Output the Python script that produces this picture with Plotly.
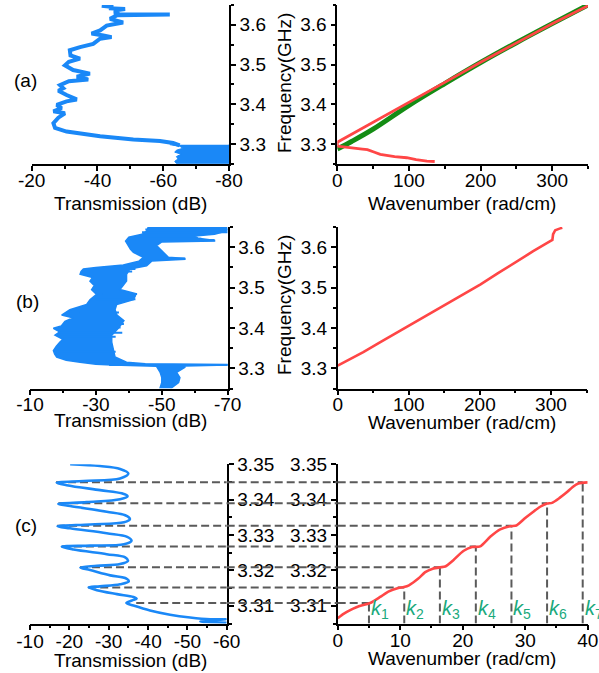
import plotly.graph_objects as go

W, H = 599, 673
FONT = "Arial, 'Liberation Sans', sans-serif"
BLUE = "#1a88f7"
RED = "#ff4646"
GREEN = "#148c14"
DASHC = "#5a5a5a"
KCOL = "#1aa97c"

# ---------------- data ----------------
# (a) transmission vs frequency
a_tr_freq = [3.648, 3.645, 3.642, 3.640, 3.636, 3.630, 3.627, 3.626, 3.624, 3.615, 3.606, 3.598,
             3.586, 3.578, 3.573, 3.569, 3.565, 3.552, 3.544, 3.536, 3.523, 3.515, 3.507, 3.498,
             3.486, 3.477, 3.469, 3.462, 3.458, 3.448, 3.440, 3.434, 3.423, 3.412, 3.407, 3.398,
             3.390, 3.382, 3.377, 3.366, 3.352, 3.340, 3.331, 3.319, 3.311, 3.307, 3.302, 3.296]
a_tr_db = [-41.3, -44.8, -43.5, -48.4, -45.1, -46.5, -45.0, -62.0, -46.0, -43.8, -47.8, -42.8,
           -40.8, -38.2, -41.8, -44.3, -40.8, -38.7, -34.7, -31.6, -31.8, -34.7, -31.3, -30.1,
           -32.6, -37.7, -33.7, -37.2, -31.3, -28.6, -29.6, -28.1, -30.6, -33.7, -30.6, -27.6,
           -29.1, -26.6, -30.1, -28.1, -26.6, -27.1, -30.6, -40.8, -50.9, -59.0, -63.0, -65.0]
a_floor_freq = [3.298, 3.294, 3.289, 3.284, 3.279, 3.274, 3.268, 3.262, 3.256, 3.2505]
a_floor_db = [-62.0, -65.0, -66.0, -64.0, -63.5, -65.5, -64.0, -64.5, -63.5, -64.0]

# (a) dispersion
a_k_up = [0, 25, 50, 75, 100, 150, 200, 250, 300, 350]
a_f_up = [3.304, 3.329, 3.353, 3.378, 3.403, 3.455, 3.5055, 3.555, 3.603, 3.648]
a_k_low = [136, 125, 110, 97, 80, 68, 60, 52, 47, 42, 35, 25, 15, 5, 0]
a_f_low = [3.2555, 3.2565, 3.260, 3.265, 3.268, 3.271, 3.2735, 3.279, 3.282, 3.2855, 3.287,
           3.289, 3.291, 3.292, 3.294]
a_k_green = [0, 20, 50, 100, 150, 200, 250, 300, 350]
a_f_green = [3.287, 3.306, 3.337, 3.397, 3.452, 3.505, 3.555, 3.603, 3.650]

# (b) transmission envelope (left / right edges of the noisy band)
b_left_freq = [3.650, 3.640, 3.632, 3.625, 3.615, 3.604, 3.595, 3.587, 3.575, 3.565, 3.556, 3.550,
               3.546, 3.540, 3.533, 3.525, 3.516, 3.505, 3.495, 3.483, 3.470, 3.458, 3.450, 3.445,
               3.432, 3.425, 3.416, 3.405, 3.399, 3.390, 3.382, 3.372, 3.365, 3.355, 3.344, 3.335,
               3.328, 3.320, 3.315, 3.310, 3.308, 3.305, 3.290, 3.277, 3.265, 3.252]
b_left_db = [-45.9, -45.4, -44.0, -40.0, -39.0, -39.8, -40.5, -41.4, -44.4, -43.0, -38.3, -30.0,
             -26.2, -25.5, -25.2, -29.0, -28.2, -29.5, -28.7, -30.2, -28.2, -27.2, -24.0, -22.1,
             -19.6, -23.0, -20.6, -19.5, -17.1, -19.0, -17.6, -20.0, -19.1, -18.0, -17.1, -17.5,
             -18.1, -21.0, -25.2, -30.0, -35.0, -48.4, -49.5, -50.0, -50.0, -49.5]
b_right_freq = [3.650, 3.640, 3.632, 3.628, 3.622, 3.617, 3.615, 3.613, 3.604, 3.590, 3.575, 3.572,
                3.570, 3.566, 3.554, 3.546, 3.533, 3.516, 3.495, 3.485, 3.480, 3.470, 3.458, 3.445,
                3.432, 3.418, 3.412, 3.399, 3.382, 3.365, 3.344, 3.328, 3.315, 3.311, 3.3095, 3.308,
                3.306, 3.3025, 3.290, 3.277, 3.265, 3.252]
b_right_db = [-69.7, -69.7, -66.0, -60.0, -61.0, -66.0, -66.0, -50.0, -48.4, -50.0, -52.0, -57.0,
              -57.0, -47.0, -45.4, -40.3, -39.3, -39.3, -37.3, -42.0, -42.0, -41.4, -36.3, -35.8,
              -36.4, -38.5, -38.0, -36.8, -34.8, -34.8, -35.3, -35.8, -39.3, -45.0, -70.0, -70.0,
              -57.0, -57.0, -54.5, -55.5, -55.1, -53.0]
# thin horizontal streaks of the noisy trace (frequency, from dB, to dB)
b_streak_freq = [3.6435, 3.637, 3.621, 3.618, 3.572, 3.546, 3.540, 3.484, 3.471, 3.438, 3.431,
                 3.410, 3.401, 3.388, 3.378, 3.341, 3.3085]
b_streak_from = [-45.0, -44.0, -40.0, -42.0, -44.0, -28.0, -26.0, -32.0, -30.0, -25.0, -22.0,
                 -22.0, -20.0, -18.5, -19.0, -18.0, -34.0]
b_streak_to = [-70.0, -70.0, -62.0, -66.0, -57.0, -42.0, -41.0, -42.5, -42.0, -37.0, -36.0,
               -38.5, -37.5, -38.0, -36.0, -36.0, -70.0]

# (b) dispersion
b_k = [0, 20, 36, 60, 97, 130, 154, 180, 201, 225, 248, 275, 299, 302, 303, 306, 312, 316]
b_f = [3.3065, 3.325, 3.340, 3.365, 3.4025, 3.438, 3.461, 3.487, 3.508, 3.535, 3.561, 3.590,
       3.615, 3.618, 3.632, 3.642, 3.646, 3.648]

# (c) transmission
c_tr_db = [-20.2, -27.8, -32.9, -35.0, -32.9, -23.6, -16.8, -19.3, -27.8, -33.3, -34.8, -32.9,
           -24.4, -17.2, -20.2, -29.5, -34.2, -35.4, -33.9, -25.3, -17.0, -20.2, -29.5, -34.7,
           -35.8, -33.9, -25.3, -18.1, -21.1, -29.5, -34.2, -34.9, -32.9, -27.0, -22.8, -25.3,
           -30.4, -34.5, -35.1, -32.9, -27.8, -24.9, -27.0, -32.1, -36.3, -37.1, -35.9, -34.5,
           -36.3, -40.5, -45.6, -50.7, -55.8, -60.0, -53.3, -60.0]
c_tr_freq = [3.3500, 3.3495, 3.3487, 3.3474, 3.3460, 3.3453, 3.3448, 3.3441, 3.3427, 3.3418,
             3.3410, 3.3401, 3.3393, 3.3388, 3.3382, 3.3366, 3.3356, 3.3345, 3.3336, 3.3330,
             3.3325, 3.3319, 3.3305, 3.3295, 3.3284, 3.3274, 3.3270, 3.3267, 3.3259, 3.3246,
             3.3237, 3.3227, 3.3218, 3.3213, 3.3208, 3.3201, 3.3186, 3.3177, 3.3169, 3.3161,
             3.3155, 3.3152, 3.3144, 3.3133, 3.3125, 3.3120, 3.3115, 3.3108, 3.3101, 3.3087,
             3.3075, 3.3067, 3.3062, 3.3062, 3.3056, 3.3052]

# (c) dispersion
c_k = [0, 1, 2, 3, 3.8, 5.2, 6.8, 8.1, 9.7, 10.6, 11.4, 12.9, 14.0, 15.2, 16.4, 17.2, 18.5, 20.1,
       21.5, 22.8, 24.4, 26.0, 27.6, 28.6, 30.0, 31.3, 32.4, 33.5, 34.3, 35.5, 36.6, 37.6, 38.5, 40]
c_f = [3.3065, 3.3078, 3.3088, 3.3096, 3.3101, 3.3108, 3.3125, 3.3140, 3.3150, 3.3153, 3.3158,
       3.3177, 3.3195, 3.3205, 3.3209, 3.3211, 3.3229, 3.3255, 3.3266, 3.3268, 3.3295, 3.3316,
       3.3325, 3.3327, 3.3348, 3.3366, 3.3380, 3.3389, 3.3391, 3.3405, 3.3420, 3.3436, 3.3446,
       3.3449]

# resonance markers
res_freq = [3.3108, 3.3152, 3.3209, 3.3268, 3.3326, 3.3390, 3.3449]
res_db_start = [-37.0, -24.8, -22.7, -18.1, -16.9, -17.2, -16.6]
res_k = [5.0, 10.65, 16.35, 22.1, 27.8, 33.5, 39.2]
res_labels = ["1", "2", "3", "4", "5", "6", "7"]

# tick definitions
a_tx_vals = [-20, -40, -60, -80]
a_tx_minor = [-30, -50, -70]
b_tx_vals = [-10, -30, -50, -70]
b_tx_minor = [-20, -40, -60]
c_tx_vals = [-10, -20, -30, -40, -50, -60]
c_tx_minor = [-15, -25, -35, -45, -55]
ab_k_vals = [0, 100, 200, 300]
ab_k_minor = [50, 150, 250, 350]
c_k_vals = [0, 10, 20, 30, 40]
c_k_minor = [5, 15, 25, 35]
ab_f_vals = [3.3, 3.4, 3.5, 3.6]
ab_f_minor = [3.25, 3.35, 3.45, 3.55, 3.65]
c_f_vals = [3.31, 3.32, 3.33, 3.34, 3.35]
c_f_minor = [3.305, 3.315, 3.325, 3.335, 3.345]

# ---------------- layout helpers ----------------
def xd(p0, p1):
    return [p0 / W, p1 / W]

def yd(p_top, p_bot):
    return [1 - p_bot / H, 1 - p_top / H]

TF = dict(family=FONT, size=19, color="black")

def axis(domain, rng, vals, minor_vals, anchor, side=None, fmt=None, standoff=0):
    d = dict(domain=domain, range=rng, tickmode="array", tickvals=vals,
             ticktext=[(fmt.format(v) if fmt else str(v)) for v in vals],
             ticks="outside", ticklen=5, tickwidth=1.5, tickcolor="black",
             showline=True, linewidth=1.6, linecolor="black", automargin=False,
             showgrid=False, zeroline=False, anchor=anchor, tickfont=TF,
             ticklabelstandoff=standoff,
             minor=dict(tickmode="array", tickvals=minor_vals, ticks="outside",
                        ticklen=3, tickwidth=1.5, tickcolor="black", showgrid=False))
    if side:
        d["side"] = side
    return d

fig = go.Figure()

# (a) left
fig.add_trace(go.Scatter(x=a_floor_db + [-80, -80], y=a_floor_freq + [a_floor_freq[-1], a_floor_freq[0]],
                         fill="toself", fillcolor=BLUE, line=dict(color=BLUE, width=1),
                         mode="lines", xaxis="x", yaxis="y"))
fig.add_trace(go.Scatter(x=a_tr_db, y=a_tr_freq, mode="lines",
                         line=dict(color=BLUE, width=4), xaxis="x", yaxis="y"))
# (a) right
fig.add_trace(go.Scatter(x=a_k_green, y=a_f_green, mode="lines", line=dict(color=GREEN, width=5, shape="spline"),
                         xaxis="x2", yaxis="y2"))
fig.add_trace(go.Scatter(x=a_k_low + a_k_up, y=a_f_low + a_f_up, mode="lines",
                         line=dict(color=RED, width=2.8), xaxis="x2", yaxis="y2"))
# (b) left
fig.add_trace(go.Scatter(x=b_left_db + b_right_db[::-1], y=b_left_freq + b_right_freq[::-1],
                         fill="toself", fillcolor=BLUE, line=dict(color=BLUE, width=1.5),
                         mode="lines", xaxis="x3", yaxis="y3"))
sx, sy = [], []
for f, a, b in zip(b_streak_freq, b_streak_from, b_streak_to):
    sx += [a, b, None]
    sy += [f, f, None]
fig.add_trace(go.Scatter(x=sx, y=sy, mode="lines", line=dict(color=BLUE, width=2),
                         xaxis="x3", yaxis="y3"))
# (b) right
fig.add_trace(go.Scatter(x=b_k, y=b_f, mode="lines", line=dict(color=RED, width=2.6),
                         xaxis="x4", yaxis="y4"))
# (c) left
fig.add_trace(go.Scatter(x=c_tr_db, y=c_tr_freq, mode="lines",
                         line=dict(color=BLUE, width=2.6, shape="spline", smoothing=1.0),
                         xaxis="x5", yaxis="y5"))
# (c) right
fig.add_trace(go.Scatter(x=c_k, y=c_f, mode="lines",
                         line=dict(color=RED, width=2.6, shape="spline", smoothing=0.6),
                         xaxis="x6", yaxis="y6"))

# dashed guide lines
C_LEFT = xd(30, 226.7)
C_RIGHT = xd(337.7, 587.7)
dline = dict(color=DASHC, width=2, dash="8px,4px")
shapes = []
for f, t0, k in zip(res_freq, res_db_start, res_k):
    shapes.append(dict(type="line", xref="x5", yref="y5", x0=t0, x1=-60, y0=f, y1=f, line=dline, layer="below"))
    shapes.append(dict(type="line", xref="paper", yref="y5", x0=C_LEFT[1], x1=C_RIGHT[0], y0=f, y1=f,
                       line=dline, layer="above"))
    shapes.append(dict(type="line", xref="x6", yref="y6", x0=0, x1=k, y0=f, y1=f, line=dline, layer="below"))
    shapes.append(dict(type="line", xref="x6", yref="y6", x0=k, x1=k, y0=3.305, y1=f, line=dline, layer="below"))

ann = []
def text(x, y, s, size=19, angle=0, **kw):
    d = dict(x=x / W, y=1 - y / H, xref="paper", yref="paper", text=s, showarrow=False,
             font=dict(family=FONT, size=size, color="black"), textangle=angle,
             xanchor="center", yanchor="middle")
    d.update(kw)
    ann.append(d)

text(25, 80, "(a)")
text(27, 301, "(b)")
text(26, 525, "(c)")
text(284, 83, "Frequency(GHz)", angle=-90)
text(285, 305, "Frequency(GHz)", angle=-90)
text(130, 203, "Transmission (dB)")
text(130, 420, "Transmission (dB)")
text(130, 660, "Transmission (dB)")
text(462, 203, "Wavenumber (rad/cm)")
text(462, 422, "Wavenumber (rad/cm)")
text(462, 658, "Wavenumber (rad/cm)")

for k, lab in zip(res_k, res_labels):
    ann.append(dict(x=k, y=3.305, xref="x6", yref="y6", xanchor="left", yanchor="bottom",
                    xshift=0, yshift=0, showarrow=False,
                    text="<i>k</i><sub>" + lab + "</sub>",
                    font=dict(family=FONT, size=20, color=KCOL)))

fig.update_layout(
    width=W, height=H, autosize=False, showlegend=False,
    margin=dict(l=0, r=0, t=0, b=0, autoexpand=False),
    paper_bgcolor="white", plot_bgcolor="rgba(0,0,0,0)",
    font=dict(family=FONT, color="black"),
    xaxis=axis(xd(31.7, 229), [-20, -80], a_tx_vals, a_tx_minor, "y", standoff=-6),
    yaxis=axis(yd(5, 163.7), [3.25, 3.65], ab_f_vals, ab_f_minor, "x", side="right", fmt="{:.1f}"),
    xaxis2=axis(xd(337.3, 588), [0, 350], ab_k_vals, ab_k_minor, "y2", standoff=-6),
    yaxis2=axis(yd(5, 163.7), [3.25, 3.65], ab_f_vals, ab_f_minor, "x2", side="left", fmt="{:.1f}"),
    xaxis3=axis(xd(30, 227.7), [-10, -70], b_tx_vals, b_tx_minor, "y3", standoff=-7),
    yaxis3=axis(yd(227, 388.5), [3.25, 3.65], ab_f_vals, ab_f_minor, "x3", side="right", fmt="{:.1f}"),
    xaxis4=axis(xd(337.7, 586.5), [0, 350], ab_k_vals, ab_k_minor, "y4", standoff=-7),
    yaxis4=axis(yd(227, 388.5), [3.25, 3.65], ab_f_vals, ab_f_minor, "x4", side="left", fmt="{:.1f}"),
    xaxis5=axis(C_LEFT, [-10, -60], c_tx_vals, c_tx_minor, "y5", standoff=-5),
    yaxis5=axis(yd(464.3, 623.5), [3.305, 3.35], c_f_vals, c_f_minor, "x5", side="right", fmt="{:.2f}"),
    xaxis6=axis(C_RIGHT, [0, 40], c_k_vals, c_k_minor, "y6", standoff=-6),
    yaxis6=axis(yd(464.3, 623.5), [3.305, 3.35], c_f_vals, c_f_minor, "x6", side="left", fmt="{:.2f}"),
    shapes=shapes, annotations=ann,
)

fig.write_html("out.html", config={"displayModeBar": False},
               post_script="document.body.style.margin='0';document.body.style.overflow='hidden';")
